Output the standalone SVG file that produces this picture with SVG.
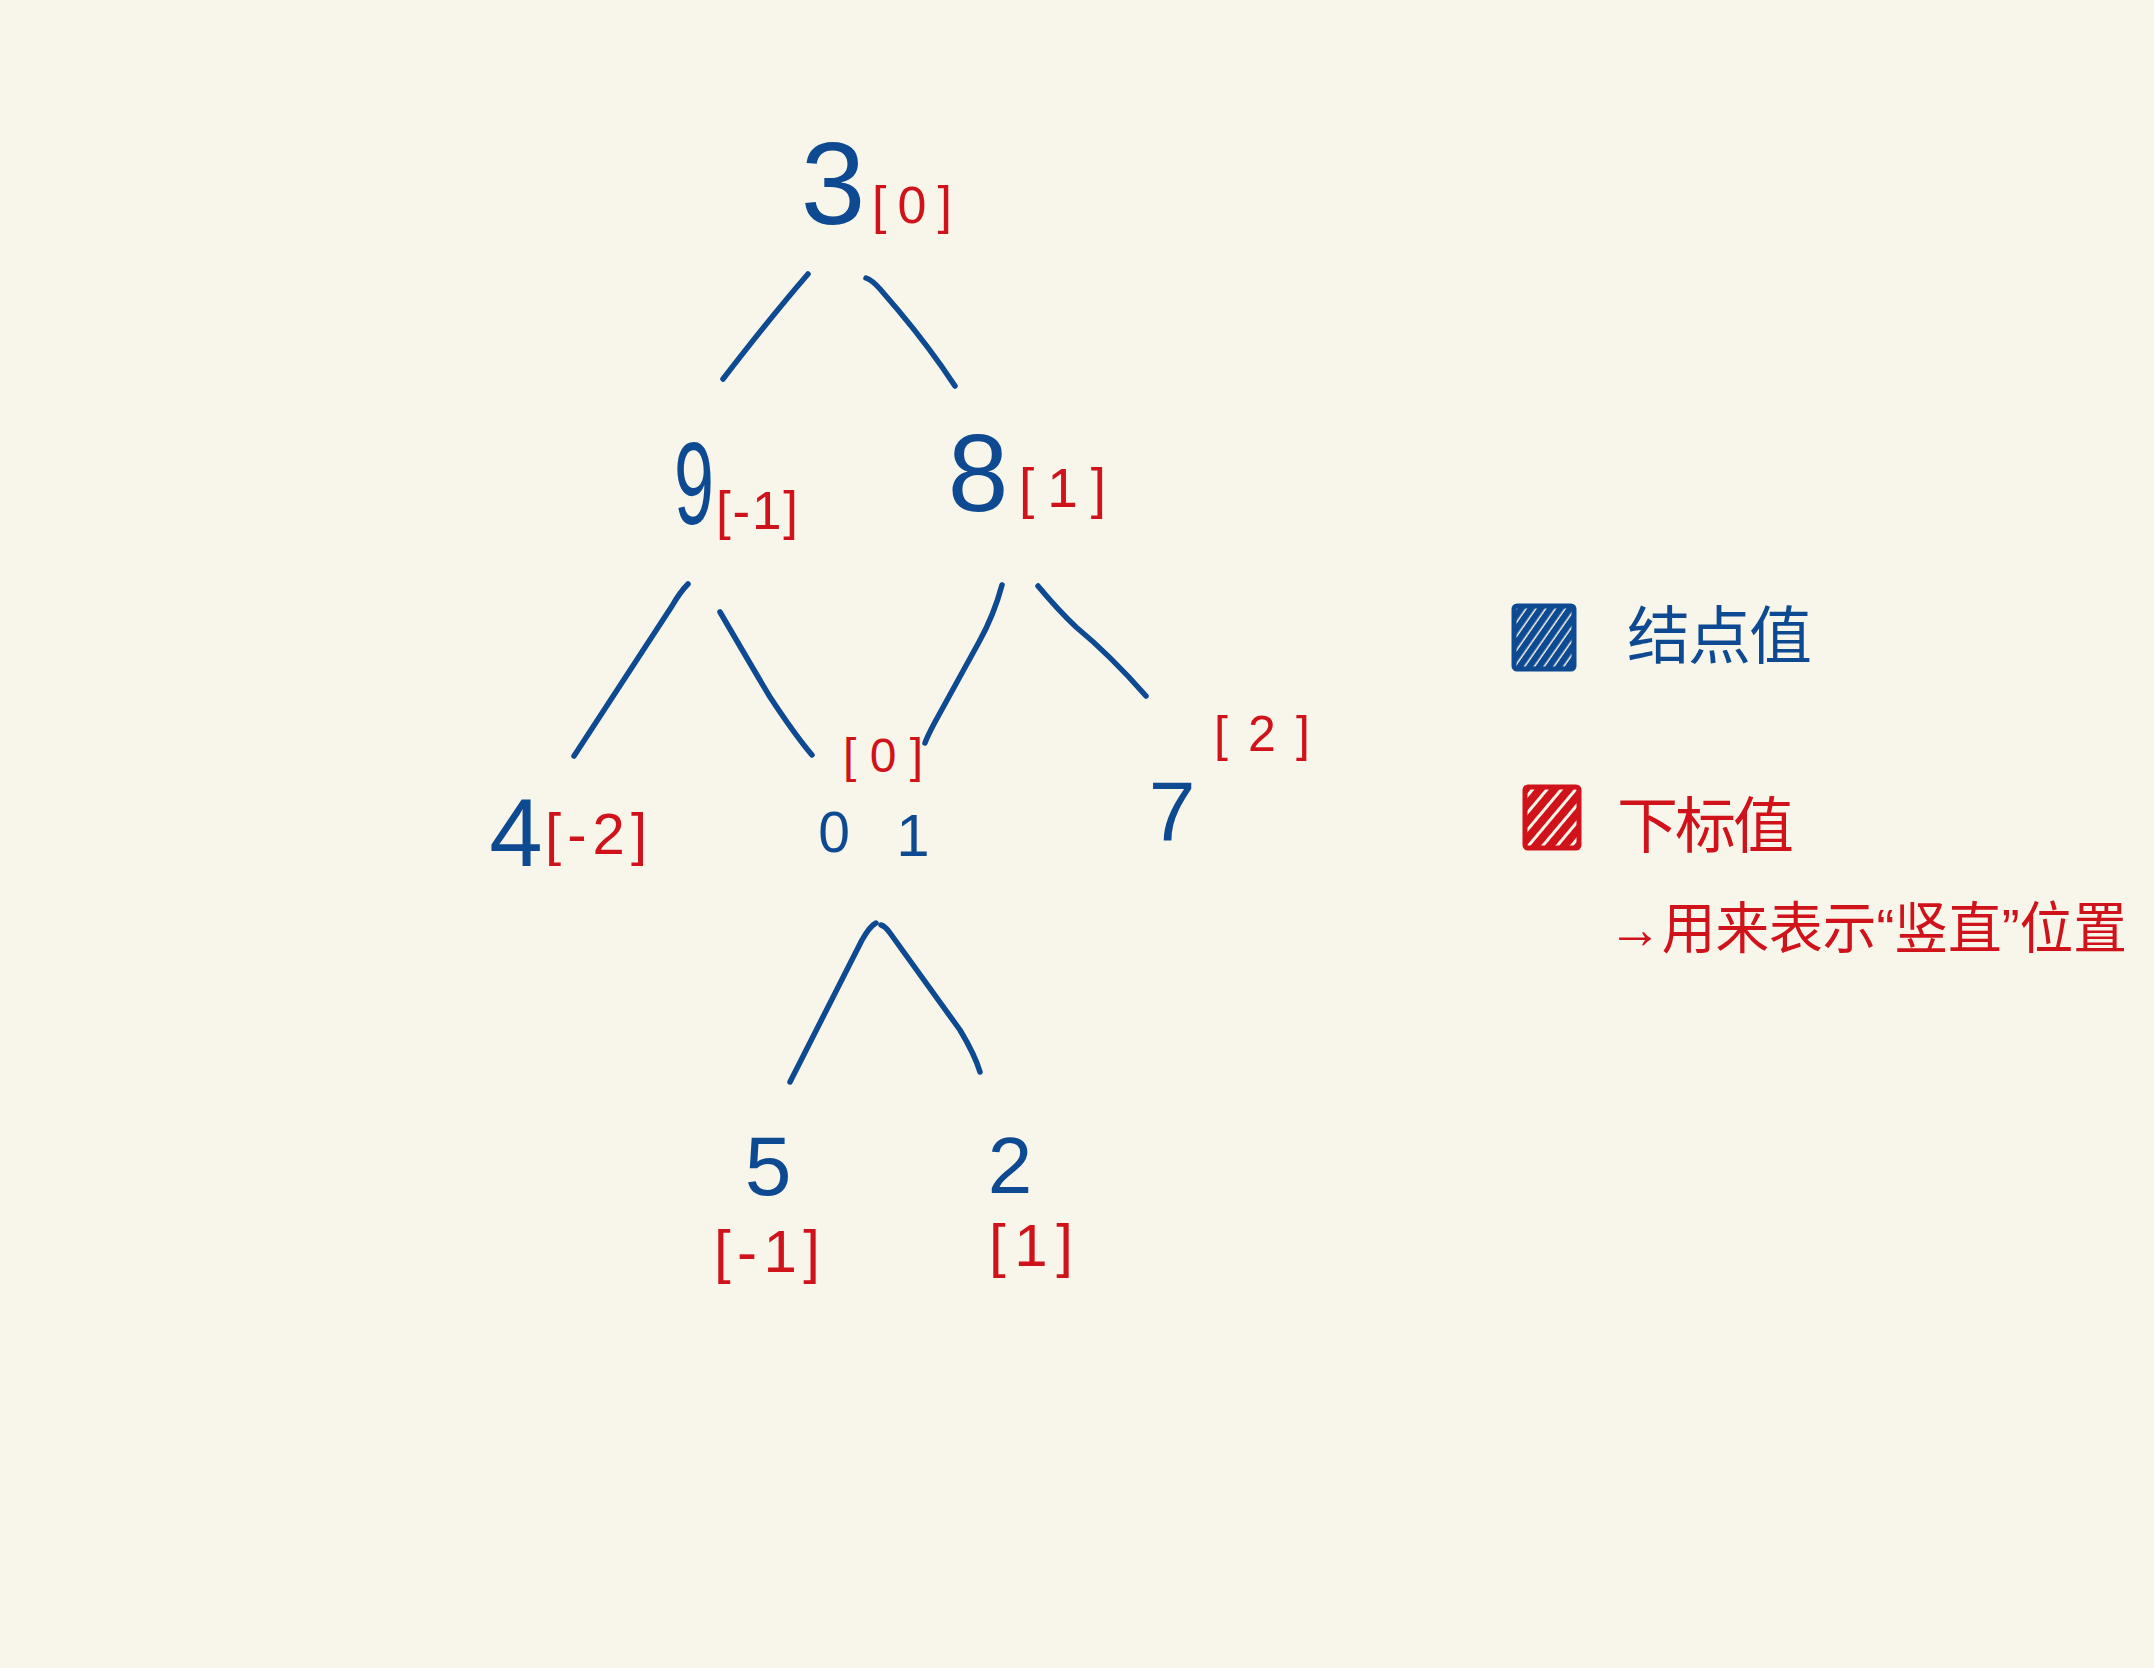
<svg xmlns="http://www.w3.org/2000/svg" width="2154" height="1668" viewBox="0 0 2154 1668">
<style>
.val{font-family:"Liberation Sans","DejaVu Sans",sans-serif;fill:#0e4a91;text-anchor:middle}
.idx{font-family:"Liberation Sans","DejaVu Sans",sans-serif;fill:#d0121b}
.cjk{font-family:"Liberation Sans","Noto Sans CJK SC",sans-serif}
.edge{fill:none;stroke:#0e4a91;stroke-width:5.5;stroke-linecap:round;stroke-linejoin:round}
</style>
<defs>
<pattern id="hb" width="8" height="8" patternUnits="userSpaceOnUse" patternTransform="rotate(35)">
<rect width="8" height="8" fill="#f8f5ea"/>
<rect width="6.5" height="8" fill="#0e4a91"/>
</pattern>
<pattern id="hr" width="11" height="11" patternUnits="userSpaceOnUse" patternTransform="rotate(40)">
<rect width="11" height="11" fill="#f8f5ea"/>
<rect width="8" height="11" fill="#d0121b"/>
</pattern>
</defs>
<rect width="2154" height="1668" fill="#f8f5ea"/>
<g id="connectors">
<path class="edge" d="M808,274 Q770,318 723,379"/>
<path class="edge" d="M866,278 Q872,280 880,289 L898,310 Q930,348 955,386"/>
<path class="edge" d="M688,584 Q680,592 672,606 L574,756"/>
<path class="edge" d="M720,612 Q755,672 770,697 Q795,735 812,755"/>
<path class="edge" d="M1002,585 Q994,615 979,642 L935,722 Q927,737 925,743"/>
<path class="edge" d="M1038,586 Q1058,610 1076,627 Q1110,655 1146,696"/>
<path class="edge" d="M876,923 Q870,926 862,940 L790,1082"/>
<path class="edge" d="M881,925 Q885,926 890,933 L960,1030 Q975,1055 980,1072"/>
</g>
<g id="node-3"><text class="val" x="833" y="224" font-size="116">3</text><text class="idx" x="872" y="223" font-size="52" textLength="80" lengthAdjust="spacing">[0]</text></g>
<g id="node-9"><text class="val" transform="translate(694,524) scale(0.62,1)" x="0" y="0" font-size="116">9</text><text class="idx" x="716" y="529" font-size="53" textLength="82" lengthAdjust="spacing">[-1]</text></g>
<g id="node-8"><text class="val" x="978" y="511" font-size="109">8</text><text class="idx" x="1019" y="507" font-size="55" textLength="87" lengthAdjust="spacing">[1]</text></g>
<g id="node-4"><text class="val" x="516" y="866" font-size="96">4</text><text class="idx" x="545" y="854" font-size="58" textLength="102" lengthAdjust="spacing">[-2]</text></g>
<g id="node-0"><text class="val" x="834" y="852" font-size="57">0</text></g>
<g id="node-1"><text class="val" x="913" y="856" font-size="60">1</text></g>
<g id="index-0-mid"><text class="idx" x="843" y="772" font-size="48" textLength="80" lengthAdjust="spacing">[0]</text></g>
<g id="node-7"><text class="val" x="1172" y="840" font-size="84">7</text><text class="idx" x="1214" y="751" font-size="50" textLength="96" lengthAdjust="spacing">[2]</text></g>
<g id="node-5"><text class="val" x="768" y="1195" font-size="84">5</text><text class="idx" x="714" y="1272" font-size="60" textLength="106" lengthAdjust="spacing">[-1]</text></g>
<g id="node-2"><text class="val" x="1010" y="1193" font-size="80">2</text><text class="idx" x="989" y="1266" font-size="60" textLength="84" lengthAdjust="spacing">[1]</text></g>
<g id="legend-value">
<rect x="1514" y="606" width="60" height="63" fill="url(#hb)" stroke="#0e4a91" stroke-width="5" rx="3"/>
<text class="cjk" x="1627" y="658" font-size="63" fill="#0e4a91" textLength="185" lengthAdjust="spacing">结点值</text>
</g>
<g id="legend-index">
<rect x="1525" y="787" width="54" height="61" fill="url(#hr)" stroke="#d0121b" stroke-width="5" rx="3"/>
<text class="cjk" x="1617" y="848" font-size="61" fill="#d0121b" textLength="177" lengthAdjust="spacing">下标值</text>
<text class="cjk" x="1608" y="948" font-size="56" fill="#d0121b" textLength="519" lengthAdjust="spacingAndGlyphs">→用来表示“竖直”位置</text>
</g>
</svg>
